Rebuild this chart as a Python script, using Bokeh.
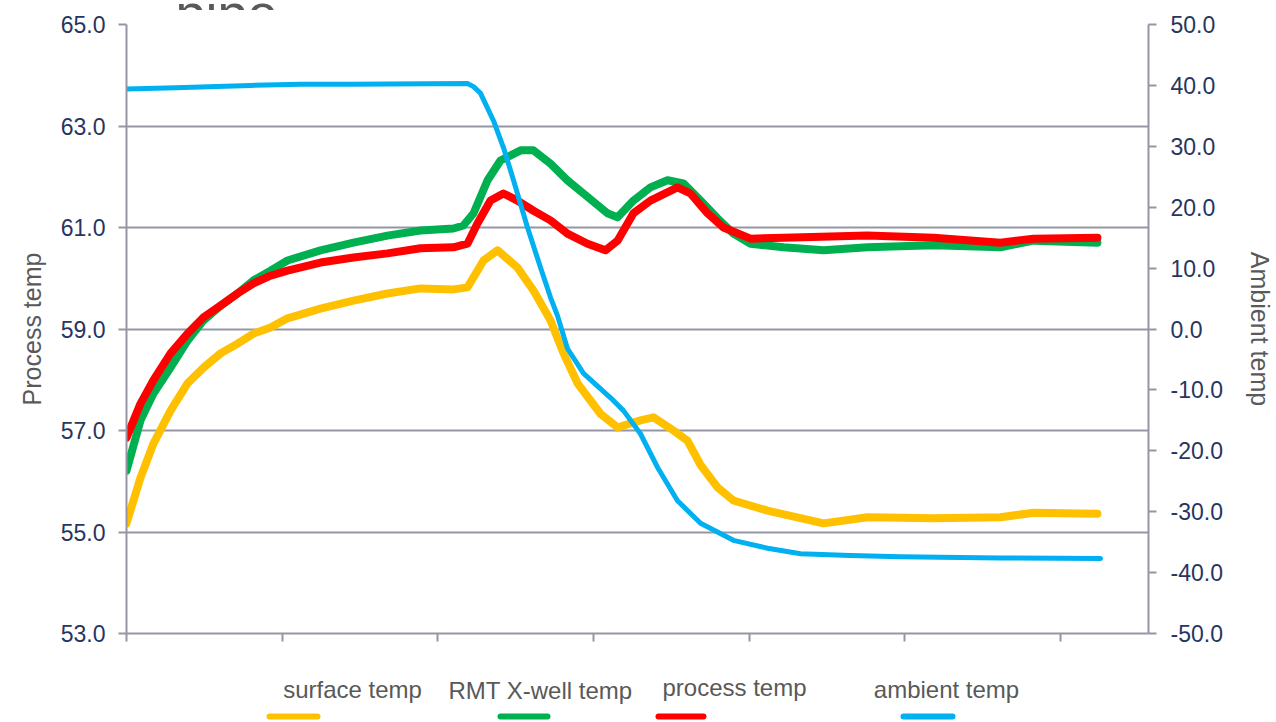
from bokeh.plotting import figure
from bokeh.layouts import column
from bokeh.models import Range1d, LinearAxis, FixedTicker, PrintfTickFormatter
from bokeh.core.properties import value
from bokeh.embed import file_html
from bokeh.resources import INLINE

# ---------------- data ----------------
title_text = "pipe"
left_axis_title = "Process temp"
right_axis_title = "Ambient temp"
series_names = ["surface temp", "RMT X-well temp", "process temp", "ambient temp"]
series_colors = ["#FFC000", "#00B050", "#FF0000", "#00B0F0"]

left_ticks = [53, 55, 57, 59, 61, 63, 65]
right_ticks = [-50, -40, -30, -20, -10, 0, 10, 20, 30, 40, 50]
x_ticks = [0, 1, 2, 3, 4, 5, 6]

surface_t = [0, 0.09, 0.173, 0.283, 0.392, 0.495, 0.604, 0.713, 0.816, 0.925, 1.034,
             1.246, 1.458, 1.676, 1.888, 2.100, 2.19, 2.293, 2.383, 2.511, 2.614,
             2.723, 2.807, 2.897, 3.044, 3.154, 3.301, 3.385, 3.513, 3.603, 3.687,
             3.796, 3.898, 4.117, 4.477, 4.759, 5.183, 5.613, 5.825, 6.236]
surface_v = [55.17, 56.07, 56.74, 57.39, 57.93, 58.24, 58.52, 58.71, 58.91, 59.03, 59.21,
             59.40, 59.56, 59.70, 59.80, 59.78, 59.82, 60.35, 60.55, 60.21, 59.76,
             59.17, 58.52, 57.93, 57.33, 57.06, 57.20, 57.26, 57.00, 56.80, 56.32,
             55.88, 55.62, 55.42, 55.17, 55.29, 55.27, 55.29, 55.38, 55.36]

rmt_t = [0, 0.09, 0.173, 0.283, 0.392, 0.495, 0.604, 0.713, 0.816, 0.925, 1.034,
         1.246, 1.458, 1.676, 1.888, 2.100, 2.164, 2.229, 2.319, 2.402, 2.531, 2.614,
         2.723, 2.832, 2.935, 3.089, 3.154, 3.256, 3.365, 3.475, 3.577, 3.687, 3.796,
         3.898, 4.008, 4.220, 4.477, 4.759, 5.183, 5.613, 5.825, 6.236]
rmt_v = [56.21, 57.20, 57.73, 58.24, 58.77, 59.17, 59.46, 59.70, 59.96, 60.15, 60.35,
         60.55, 60.70, 60.84, 60.94, 60.98, 61.04, 61.28, 61.93, 62.32, 62.52, 62.52,
         62.26, 61.93, 61.67, 61.28, 61.20, 61.53, 61.79, 61.93, 61.87, 61.53, 61.18,
         60.88, 60.68, 60.61, 60.55, 60.61, 60.65, 60.61, 60.74, 60.70]

process_t = [0, 0.09, 0.173, 0.283, 0.392, 0.495, 0.604, 0.713, 0.816, 0.925, 1.034,
             1.246, 1.458, 1.676, 1.888, 2.100, 2.19, 2.254, 2.338, 2.421, 2.511, 2.614,
             2.723, 2.832, 2.961, 3.076, 3.154, 3.256, 3.365, 3.539, 3.622, 3.732, 3.834,
             4.008, 4.220, 4.759, 5.183, 5.613, 5.825, 6.236]
process_v = [56.86, 57.53, 57.99, 58.52, 58.91, 59.23, 59.46, 59.70, 59.90, 60.05, 60.15,
             60.31, 60.41, 60.49, 60.59, 60.61, 60.68, 61.08, 61.53, 61.67, 61.53, 61.33,
             61.14, 60.88, 60.68, 60.55, 60.74, 61.28, 61.53, 61.79, 61.67, 61.28, 61.00,
             60.78, 60.80, 60.84, 60.80, 60.70, 60.78, 60.80]

ambient_t = [0, 0.315, 0.796, 1.118, 1.439, 2.19, 2.229, 2.274, 2.357, 2.421, 2.486,
             2.575, 2.659, 2.723, 2.768, 2.832, 2.935, 3.109, 3.192, 3.301, 3.410, 3.539,
             3.687, 3.898, 4.117, 4.329, 4.650, 4.971, 5.613, 6.256]
ambient_v = [39.4, 39.6, 40.0, 40.2, 40.2, 40.3, 39.8, 38.7, 34.2, 29.8, 24.4,
             16.7, 10.1, 5.2, 2.2, -3.2, -7.3, -11.3, -13.4, -17.2, -22.7, -28.2,
             -31.9, -34.7, -36.0, -36.9, -37.2, -37.4, -37.6, -37.7]

# ---------------- styling ----------------
FONT = "Liberation Sans"
AXIS_GRAY = "#9496a6"
TICK_COLOR = "#27355f"
TEXT_GRAY = "#595959"
W = 1276
BL, BR = 126, 128          # left / right borders shared by all strips
TOP_H = 10                 # strip holding the cut-off title
LEG_H = 62                 # legend strip
MAIN_H = 722 - TOP_H - LEG_H


def bare_strip(height, y0, y1):
    # page-pixel coordinates: x from frame left edge to frame right edge
    f = figure(width=W, height=height, output_backend="svg", toolbar_location=None,
               x_range=Range1d(BL, W - BR), y_range=Range1d(y1, y0),
               x_axis_type=None, y_axis_type=None,
               min_border_left=BL, min_border_right=BR,
               min_border_top=0, min_border_bottom=0)
    f.outline_line_color = None
    f.grid.visible = False
    f.title.visible = False
    return f


# ---- title strip (title runs off the top edge, as in the reference) ----
top = bare_strip(TOP_H, 0, TOP_H)
top.text(x=[175], y=[10.5], text=[title_text], text_font=value(FONT),
         text_font_size="54px", text_color=TEXT_GRAY, text_baseline="alphabetic",
         text_align="left")

# ---- main chart ----
p = figure(width=W, height=MAIN_H, output_backend="svg", toolbar_location=None,
           x_range=Range1d(0, 6.564), y_range=Range1d(53, 65),
           min_border_left=BL, min_border_right=BR, min_border_top=24 - TOP_H,
           min_border_bottom=MAIN_H + TOP_H - 633)
p.outline_line_color = None
p.title.visible = False
p.extra_y_ranges = {"amb": Range1d(-50, 50)}

p.xgrid.visible = False
p.ygrid.ticker = FixedTicker(ticks=left_ticks)
p.ygrid.grid_line_color = AXIS_GRAY
p.ygrid.grid_line_width = 2

xa = p.xaxis[0]
xa.ticker = FixedTicker(ticks=x_ticks)
xa.major_label_overrides = {t: "" for t in x_ticks}
xa.major_label_standoff = 0
xa.major_tick_out = 8
xa.major_tick_in = 0
xa.minor_tick_out = 0
xa.minor_tick_in = 0
xa.axis_line_color = AXIS_GRAY
xa.axis_line_width = 2
xa.major_tick_line_color = AXIS_GRAY
xa.major_tick_line_width = 2


def style_y(ax, label, standoff):
    ax.formatter = PrintfTickFormatter(format="%.1f")
    ax.major_label_text_font = FONT
    ax.major_label_text_font_size = "23px"
    ax.major_label_text_color = TICK_COLOR
    ax.major_tick_out = 8
    ax.major_tick_in = 0
    ax.minor_tick_out = 0
    ax.minor_tick_in = 0
    ax.axis_line_color = AXIS_GRAY
    ax.axis_line_width = 2
    ax.major_tick_line_color = AXIS_GRAY
    ax.major_tick_line_width = 2
    ax.axis_label = label
    ax.axis_label_text_font = FONT
    ax.axis_label_text_font_size = "25px"
    ax.axis_label_text_font_style = "normal"
    ax.axis_label_text_color = TEXT_GRAY
    ax.axis_label_standoff = standoff


ya = p.yaxis[0]
ya.ticker = FixedTicker(ticks=left_ticks)
style_y(ya, left_axis_title, 12)
ya.major_label_standoff = 13

ra = LinearAxis(y_range_name="amb", ticker=FixedTicker(ticks=right_ticks))
style_y(ra, right_axis_title, 20)
ra.major_label_standoff = 14
p.add_layout(ra, "right")

p.line(surface_t, surface_v, line_color=series_colors[0], line_width=8,
       line_join="round", line_cap="round")
p.line(rmt_t, rmt_v, line_color=series_colors[1], line_width=8,
       line_join="round", line_cap="round")
p.line(process_t, process_v, line_color=series_colors[2], line_width=8,
       line_join="round", line_cap="round")
p.line(ambient_t, ambient_v, line_color=series_colors[3], line_width=5,
       line_join="round", line_cap="round", y_range_name="amb")

# ---- legend strip: name above a short coloured bar ----
leg_y0 = TOP_H + MAIN_H
leg = bare_strip(LEG_H, leg_y0, leg_y0 + LEG_H)
legend_text_x = [352, 540, 734, 946]
legend_text_y = [689, 690, 687, 689]
legend_bar_x0 = [269, 500, 658, 903]
legend_bar_x1 = [317, 547, 703, 952]
legend_bar_y = [716, 716, 716, 716]
leg.text(x=legend_text_x, y=legend_text_y, text=series_names, text_font=value(FONT),
         text_font_size="24px", text_color=TEXT_GRAY, text_align="center",
         text_baseline="middle")
leg.segment(x0=legend_bar_x0, y0=legend_bar_y, x1=legend_bar_x1, y1=legend_bar_y,
            line_color=series_colors, line_width=6, line_cap="round")

layout = column(top, p, leg, spacing=0)
open("out.html", "w").write(file_html(layout, INLINE))
